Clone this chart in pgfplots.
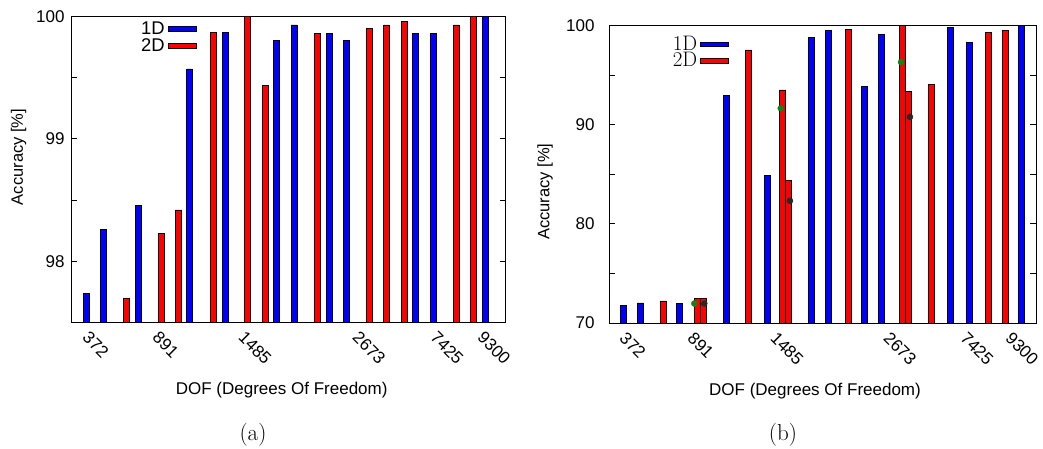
\documentclass[border=0pt]{standalone}
\usepackage{pgfplots}
\pgfplotsset{compat=1.18}
\usepackage{fontspec}
\newfontfamily\hv{Liberation Sans}
\definecolor{barblue}{RGB}{0,0,255}
\definecolor{barred}{RGB}{255,0,0}
\definecolor{dotgreen}{RGB}{20,130,20}
\definecolor{dotblack}{RGB}{40,40,40}
\newcommand{\tickfont}{\hv\fontsize{17}{19}\selectfont}
\newcommand{\labfont}{\hv\fontsize{17}{19}\selectfont}
\pgfplotsset{
  common/.style={
    scale only axis, anchor=south west,
    axis line style={black, line width=0.9pt},
    tick align=inside, ytick pos=both, xtick pos=bottom,
    major tick length=6pt,
    tick style={black, line width=0.6pt},
    xtick style={draw=none},
    ticklabel style={font=\tickfont},
    /pgf/number format/assume math mode=true,
    xticklabel style={yshift=-3pt, rotate=-45, anchor=north west},
    legend plot pos=right,
    legend cell align=right,
  },
  b1/.style={ybar, bar width=6, bar shift=0pt, fill=barblue, draw=black, line width=0.5pt},
  b2/.style={ybar, bar width=6, bar shift=0pt, fill=barred, draw=black, line width=0.5pt},
}
\begin{document}
\begin{tikzpicture}[x=1pt,y=1pt]
\useasboundingbox (0,0) rectangle (1043,448);
% ---------------- (a)
\begin{axis}[common, name=A,
  at={(71,102.4)}, width=434.7pt, height=306.3pt,
  y coord trafo/.code={\pgfmathparse{#1-97.5}},
  y coord inv trafo/.code={\pgfmathparse{#1+97.5}},
  xmin=71, xmax=505.7, ymin=97.5, ymax=100,
  ytick={98,98.5,99,99.5,100}, yticklabels={98,,99,,100},
  yticklabel style={xshift=-3pt},
  xtick={90,160,246,360,438,485},
  xticklabels={372,891,1485,2673,7425,9300},
  legend style={at={(0.2899,0.985)}, anchor=north east, draw=none, fill=none,
    font=\hv\fontsize{18.4}{20}\selectfont, inner sep=0pt, column sep=2pt, row sep=0pt,
    nodes={inner sep=1pt}},
]
\addplot[b1, legend image code/.code={\draw[fill=barblue,draw=black,line width=0.5pt] (0pt,-2.5pt) rectangle (28.7pt,2.5pt);}] coordinates {
(86,97.74) (103.3,98.26) (138,98.455) (189.7,99.57) (225,99.87) (276.7,99.80)
(294,99.93) (329,99.86) (346.3,99.80) (415.7,99.86) (433,99.86) (485.3,100)};
\addlegendentry{1D}
\addplot[b2, legend image code/.code={\draw[fill=barred,draw=black,line width=0.5pt] (0pt,-2.5pt) rectangle (28.7pt,2.5pt);}] coordinates {
(126.3,97.70) (161,98.226) (178.3,98.42) (213.3,99.87) (247.7,100) (265,99.436)
(317.3,99.86) (369.3,99.90) (386.7,99.93) (404,99.96) (456.3,99.93) (473.3,100)};
\addlegendentry{2D}
\end{axis}
% ---------------- (b)
\begin{axis}[common,
  at={(609,126)}, width=427pt, height=297.7pt,
  y coord trafo/.code={\pgfmathparse{#1-70}},
  y coord inv trafo/.code={\pgfmathparse{#1+70}},
  xmin=609, xmax=1036, ymin=70, ymax=100,
  ytick={70,75,80,85,90,95,100}, yticklabels={70,,80,,90,,100},
  yticklabel style={xshift=-11pt},
  xtick={627,695,778,891,968,1013},
  xticklabels={372,891,1485,2673,7425,9300},
  legend style={at={(0.2803,0.967)}, anchor=north east, draw=none, fill=none,
    font=\fontsize{21}{23}\selectfont, inner sep=0pt, column sep=2pt, row sep=-1.5pt,
    nodes={inner sep=1pt}},
]
\addplot[b1, legend image code/.code={\draw[fill=barblue,draw=black,line width=0.5pt] (0pt,-2.3pt) rectangle (27.7pt,2.3pt);}] coordinates {
(623.3,71.76) (640.3,72.02) (679.7,71.99) (726,92.95) (767,84.9) (811,98.8)
(828.3,99.5) (864.7,93.85) (881.7,99.1) (950,99.8) (969.3,98.3) (1021.3,100)};
\addlegendentry{1D}
\addplot[b2, legend image code/.code={\draw[fill=barred,draw=black,line width=0.5pt] (0pt,-2.5pt) rectangle (27.7pt,2.5pt);}] coordinates {
(663.3,72.22) (697.3,72.46) (703,72.5) (748.7,97.52) (782.7,93.48) (788.3,84.37)
(848,99.57) (902.3,100) (908.3,93.35) (931.7,94.06) (988,99.3) (1005,99.5)};
\addlegendentry{2D}
\addplot[only marks, mark=*, mark size=3pt, color=dotgreen, forget plot] coordinates {
(694.3,71.96) (780.7,91.63) (901,96.3)};
\addplot[only marks, mark=*, mark size=3pt, color=dotblack, forget plot] coordinates {
(704.3,71.96) (790,82.31) (910,90.76)};
\end{axis}
% ---------------- labels
\node[rotate=90, font=\hv\fontsize{16.5}{19}\selectfont] at (18.5,291) {Accuracy [\%]};
\node[font=\labfont] at (281.7,58) {DOF (Degrees Of Freedom)};
\node[rotate=90, font=\hv\fontsize{16.5}{19}\selectfont] at (545,256.3) {Accuracy [\%]};
\node[font=\labfont] at (815,57) {DOF (Degrees Of Freedom)};
\node[font=\fontsize{23}{26}\selectfont] at (253,13) {(a)};
\node[font=\fontsize{23}{26}\selectfont] at (783,13) {(b)};
\end{tikzpicture}
\end{document}
